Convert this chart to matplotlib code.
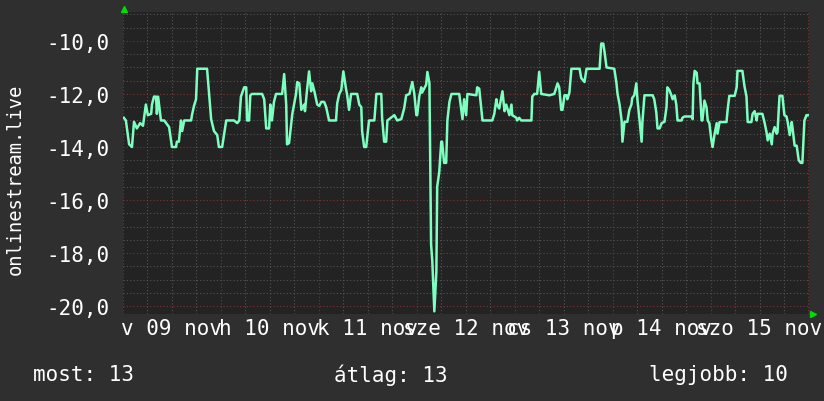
import matplotlib
matplotlib.use("Agg")
import matplotlib.pyplot as plt
from matplotlib.ticker import FuncFormatter

# hours since 09 nov 00:00, value
hours = [0.2, 0.7, 1.5, 2.2, 2.7, 3.4, 4.2, 4.9, 5.6, 6.1, 6.9, 7.1, 7.6, 8.1, 8.3, 8.6,
         9.3, 10.1, 11.3, 12.0, 13.0, 13.2, 13.7, 14.2, 14.5, 15.0, 16.7, 16.9, 17.4, 17.9,
         18.2, 20.6, 21.1, 21.6, 22.3, 23.1, 23.5, 24.3, 24.8, 25.3, 27.2, 28.0, 28.5, 28.9,
         29.7, 30.2, 30.4, 30.9, 31.2, 31.6, 34.1, 34.6, 35.1, 35.8, 36.1, 36.5, 37.0, 37.5,
         39.0, 39.5, 40.0, 40.2, 40.7, 41.5, 42.4, 42.7, 43.2, 43.7, 44.4, 44.6, 45.1, 45.6,
         46.1, 46.4, 46.9, 47.6, 48.1, 48.6, 49.3, 49.8, 50.5, 52.2, 52.5, 53.0, 53.5, 54.0,
         54.7, 54.9, 55.4, 55.9, 57.4, 57.9, 58.4, 58.6, 59.1, 59.6, 60.3, 61.6, 62.1, 63.3,
         63.5, 64.0, 64.5, 64.8, 66.5, 67.2, 68.2, 68.9, 69.4, 70.2, 70.9, 71.4, 71.9, 72.1,
         72.6, 73.1, 73.3, 73.8, 74.3, 74.6, 75.1, 75.5, 75.8, 76.3, 76.8, 77.0, 77.5, 78.0,
         78.2, 78.7, 79.2, 79.5, 80.0, 80.5, 82.4, 83.2, 83.6, 84.1, 84.4, 86.6, 86.8, 87.3,
         87.8, 88.1, 90.5, 91.0, 91.5, 91.7, 92.2, 92.7, 93.0, 93.5, 93.9, 94.2, 94.7, 95.2,
         95.4, 95.9, 96.4, 96.6, 97.1, 97.6, 100.1, 100.3, 100.8, 101.5, 102.0, 102.5, 104.5,
         105.7, 106.2, 106.5, 106.9, 107.4, 107.7, 108.2, 108.7, 108.9, 109.4, 109.9, 111.9,
         112.3, 113.1, 113.6, 116.8, 117.0, 117.2, 117.7, 118.0, 118.5, 120.4, 120.9, 121.2,
         121.7, 122.2, 122.4, 122.9, 123.6, 124.1, 124.6, 124.8, 125.3, 125.8, 126.1, 126.6,
         127.1, 127.3, 127.8, 129.8, 130.2, 130.7, 131.0, 131.5, 132.0, 132.7, 133.2, 133.4,
         133.9, 134.4, 134.7, 135.2, 135.6, 135.9, 136.9, 137.1, 137.6, 139.3, 139.6, 139.8,
         140.1, 140.6, 140.8, 141.3, 141.8, 142.0, 142.5, 143.0, 143.3, 143.7, 144.2, 144.5,
         145.0, 145.5, 145.7, 146.2, 147.9, 148.2, 148.6, 149.9, 150.4, 150.6, 151.8, 152.3,
         152.8, 153.1, 154.0, 154.3, 154.8, 155.3, 155.5, 156.7, 157.2, 157.7, 158.0, 158.5,
         159.0, 159.2, 159.7, 160.2, 160.4, 160.9, 161.6, 162.1, 162.6, 162.9, 163.4, 163.9,
         164.1, 164.6, 165.1, 165.6, 166.1, 166.5, 167.0, 167.5, 167.8]
values = [-12.9, -13.0, -13.9, -14.0, -13.05, -13.3, -13.1, -13.2, -12.4, -12.8, -12.75, -12.4,
          -12.1, -12.1, -12.75, -12.1, -13.0, -13.0, -13.25, -14.0, -14.0, -13.8, -13.8, -13.0,
          -13.4, -13.0, -13.0, -12.8, -12.45, -12.2, -11.05, -11.05, -12.0, -12.95, -13.4,
          -13.55, -14.0, -14.0, -13.5, -13.0, -13.0, -13.1, -13.0, -12.1, -11.75, -11.75,
          -13.0, -13.0, -12.05, -12.0, -12.0, -12.2, -13.3, -13.3, -12.4, -13.0, -12.3, -12.0,
          -12.0, -11.25, -12.4, -13.9, -13.85, -12.75, -12.0, -11.55, -11.6, -12.6, -12.4,
          -12.65, -11.85, -11.15, -11.9, -11.6, -11.9, -12.4, -12.45, -12.3, -12.3, -12.5,
          -13.0, -13.0, -12.35, -12.0, -11.85, -11.15, -11.85, -12.0, -12.6, -12.0, -12.0,
          -12.4, -12.5, -13.4, -14.0, -14.0, -13.0, -13.0, -12.0, -12.0, -12.9, -13.8, -13.8,
          -13.0, -12.8, -13.0, -12.95, -12.55, -12.05, -12.0, -11.55, -12.0, -12.8, -12.8,
          -12.1, -11.75, -11.95, -11.8, -11.65, -11.17, -11.6, -17.66, -18.3, -20.2, -18.7,
          -15.5, -14.95, -13.8, -13.8, -14.6, -14.6, -13.0, -12.3, -12.0, -12.0, -12.95,
          -12.2, -12.8, -12.0, -12.05, -11.75, -11.8, -12.55, -13.0, -13.0, -12.75, -12.2,
          -12.4, -12.55, -12.15, -11.9, -12.65, -12.4, -12.55, -12.8, -12.4, -12.8, -12.85,
          -12.9, -13.0, -12.9, -13.0, -13.0, -12.1, -12.0, -12.0, -11.17, -12.0, -12.05,
          -12.0, -11.75, -11.6, -11.75, -12.6, -12.6, -12.05, -12.05, -12.2, -11.95, -11.05,
          -11.05, -11.4, -11.55, -11.05, -11.05, -10.6, -10.1, -10.1, -10.4, -11.0, -11.05,
          -11.55, -12.0, -12.4, -13.0, -13.8, -13.05, -13.05, -12.6, -12.4, -12.15, -12.05,
          -11.6, -12.25, -13.0, -13.8, -13.05, -12.05, -12.05, -12.2, -12.7, -13.3, -13.3,
          -13.1, -13.05, -12.5, -11.75, -11.85, -12.05, -12.2, -12.05, -12.4, -13.0, -13.0,
          -12.9, -12.85, -12.85, -12.95, -11.6, -11.13, -11.2, -11.6, -11.6, -13.0, -13.0,
          -12.25, -12.5, -13.0, -13.1, -13.75, -14.0, -13.5, -13.1, -13.5, -13.06, -13.06,
          -12.57, -12.07, -12.07, -11.75, -11.13, -11.13, -11.7, -12.1, -13.06, -13.06,
          -12.75, -12.65, -13.0, -12.75, -12.75, -13.06, -13.43, -13.75, -13.5, -13.9, -13.5,
          -13.25, -13.5, -13.45, -12.07, -12.07, -12.8, -12.85, -13.06, -13.55, -13.06, -13.3,
          -13.95, -13.95, -14.5, -14.6, -14.6, -13.0, -12.8, -12.8]

day_labels = ["v 09 nov", "h 10 nov", "k 11 nov", "sze 12 nov", "cs 13 nov", "p 14 nov", "szo 15 nov"]
y_ticks = [-20, -18, -16, -14, -12, -10]
legend_names = ["most", "átlag", "legjobb"]
legend_values = [13, 13, 10]
series_name = "onlinestream.live"

bg = "#2f2f2f"
plot_bg = "#232323"
fg = "#ffffff"
font = "DejaVu Sans Mono"
fs = 15

fig = plt.figure(figsize=(8.24, 4.02), dpi=100, facecolor=bg)
ax = fig.add_axes([123 / 824, 1 - 315 / 402, 685.5 / 824, (315 - 13.3) / 402])
ax.set_facecolor(plot_bg)

# grid: minor grey dotted, major red dotted
for y in range(-41, -17):
    yy = y * 0.5
    col = "#7a3535" if yy in y_ticks else "#555555"
    ax.axhline(yy, color=col, lw=0.8, ls=(0, (1, 2)), zorder=1)
for h in range(0, 169, 6):
    col = "#7a3535" if h % 24 == 0 else "#555555"
    ax.axvline(h, color=col, lw=0.8, ls=(0, (1, 2)), zorder=1)

ax.plot(hours, values, color="#7dffc0", lw=1.8, zorder=3)

ax.set_xlim(0, 168)
ax.set_ylim(-20.3, -8.92)
ax.set_yticks(y_ticks)
ax.yaxis.set_major_formatter(FuncFormatter(lambda v, p: f"{v:.1f}".replace(".", ",")))
ax.set_xticks([12 + 24 * i for i in range(len(day_labels))])
ax.set_xticklabels(day_labels)
ax.tick_params(length=0, colors=fg, labelsize=fs, pad=10)
ax.tick_params(axis="x", pad=3)
for lab in ax.get_xticklabels() + ax.get_yticklabels():
    lab.set_family(font)
for s in ax.spines.values():
    s.set_visible(False)

# axis arrows
ax.plot([0.002], [1.01], marker="^", color="#00dd00", ms=5, transform=ax.transAxes,
        clip_on=False, zorder=5)
ax.plot([1.006], [0.0], marker=">", color="#00dd00", ms=5, transform=ax.transAxes,
        clip_on=False, zorder=5)

fig.text(15 / 824, 1 - 179 / 402, series_name, rotation=90, color=fg, fontsize=13.5,
         family=font, ha="center", va="center")

leg_x = [33, 334, 649]
for x, name, val in zip(leg_x, legend_names, legend_values):
    fig.text(x / 824, 1 - 375 / 402, f"{name}: {val}", color=fg, fontsize=fs,
             family=font, ha="left", va="center")

fig.savefig("out.png", dpi=100, facecolor=bg)
